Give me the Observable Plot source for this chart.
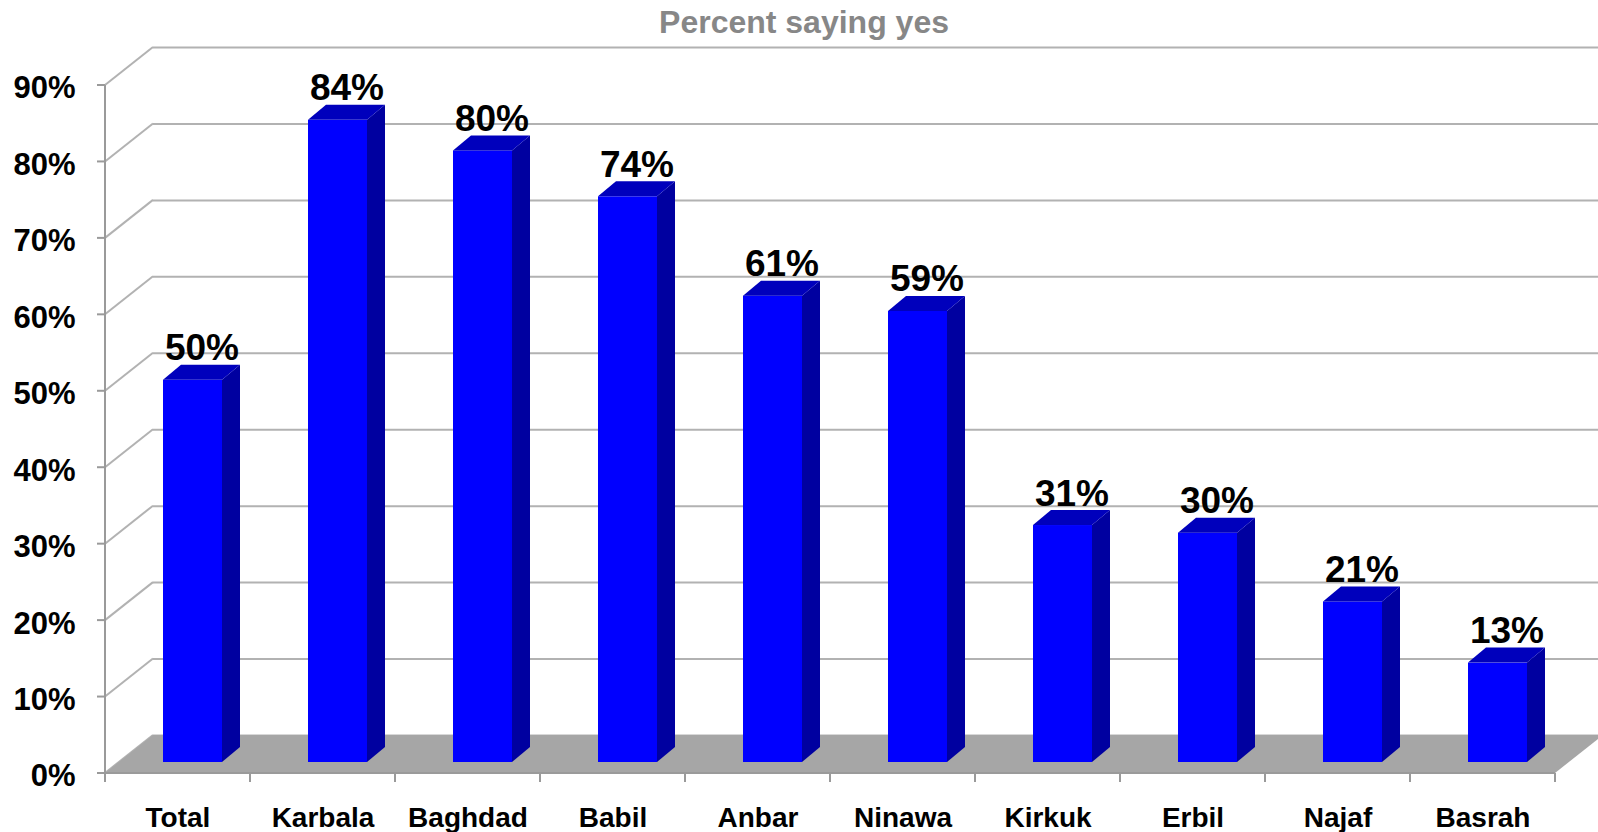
<!DOCTYPE html>
<html>
<head>
<meta charset="utf-8">
<script src="https://cdn.jsdelivr.net/npm/d3@7"></script>
<script src="https://cdn.jsdelivr.net/npm/@observablehq/plot@0.6"></script>
<style>
  html, body { margin: 0; padding: 0; background: #fff; }
  body { width: 1598px; height: 832px; overflow: hidden; font-family: "Liberation Sans", Arial, sans-serif; }
  #title { height: 40px; line-height: 45px; text-align: center; padding-left: 10px; box-sizing: border-box;
           font-size: 32px; font-weight: bold; color: #878787; }
</style>
</head>
<body>
<div id="title">Percent saying yes</div>
<div id="chart"></div>
<script>
// ---- data ----
const categories = ["Total", "Karbala", "Baghdad", "Babil", "Anbar", "Ninawa", "Kirkuk", "Erbil", "Najaf", "Basrah"];
const values = [50, 84, 80, 74, 61, 59, 31, 30, 21, 13];
const yTicks = [0, 10, 20, 30, 40, 50, 60, 70, 80, 90];
const tickLabel = d => d + "%";

const data = categories.map((c, i) => ({category: c, value: values[i]}));

// ---- styling constants (pseudo-3D look) ----
const WALL_DX = 48, WALL_DY = -38;     // depth of the chart box
const BAR_DX = 18, BAR_DY = -15;       // depth of each bar
const BAR_SHIFT_Y = -11;               // bars stand in the middle of the floor
const INSET_L = 58, INSET_R = 28;
const GRID = "#b2b2b2", AXIS = "#9a9a9a", FLOOR = "#a6a6a6";
const FRONT = "#0000ff", SIDE = "#0000a0", TOP = "#0000bc";

// back wall, left wall, floor, axis lines and ticks
const frame3d = (index, scales, vals, dims) => {
  const {y, x} = scales;
  const L = dims.marginLeft, R = dims.width - dims.marginRight;
  const Y0 = y(0), YT = y(yTicks[yTicks.length - 1]);
  const bw = (R - L) / categories.length;
  const g = d3.create("svg:g");
  for (const t of yTicks) {
    g.append("line").attr("x1", L).attr("y1", y(t)).attr("x2", L + WALL_DX).attr("y2", y(t) + WALL_DY)
      .attr("stroke", GRID).attr("stroke-width", 2);
  }
  g.append("polygon")
    .attr("points", [[L, Y0], [R, Y0], [R + WALL_DX, Y0 + WALL_DY], [L + WALL_DX, Y0 + WALL_DY]].map(p => p.join(",")).join(" "))
    .attr("fill", FLOOR);
  g.append("line").attr("x1", L).attr("x2", L).attr("y1", YT).attr("y2", Y0).attr("stroke", AXIS).attr("stroke-width", 2);
  g.append("line").attr("x1", L).attr("x2", R).attr("y1", Y0).attr("y2", Y0).attr("stroke", AXIS).attr("stroke-width", 2);
  for (const t of yTicks) {
    g.append("line").attr("x1", L - 8).attr("x2", L).attr("y1", y(t)).attr("y2", y(t)).attr("stroke", AXIS).attr("stroke-width", 2);
  }
  for (let i = 0; i <= categories.length; i++) {
    const xx = i < categories.length ? x(categories[i]) : x(categories[i - 1]) + bw;
    g.append("line").attr("x1", xx).attr("x2", xx).attr("y1", Y0).attr("y2", Y0 + 9).attr("stroke", AXIS).attr("stroke-width", 2);
  }
  return g.node();
};

// side and top faces of each bar
const barFaces = (index, scales, vals, dims) => {
  const {x, y} = scales;
  const L = dims.marginLeft, R = dims.width - dims.marginRight;
  const bw = (R - L) / categories.length;
  const g = d3.create("svg:g");
  for (const d of data) {
    const x1 = x(d.category) + INSET_L, x2 = x(d.category) + bw - INSET_R;
    const yb = y(0) + BAR_SHIFT_Y, yt = y(d.value) + BAR_SHIFT_Y;
    g.append("polygon")
      .attr("points", [[x2, yb], [x2 + BAR_DX, yb + BAR_DY], [x2 + BAR_DX, yt + BAR_DY], [x2, yt]].map(p => p.join(",")).join(" "))
      .attr("fill", SIDE);
    g.append("polygon")
      .attr("points", [[x1, yt], [x1 + BAR_DX, yt + BAR_DY], [x2 + BAR_DX, yt + BAR_DY], [x2, yt]].map(p => p.join(",")).join(" "))
      .attr("fill", TOP);
  }
  return g.node();
};

const plot = Plot.plot({
  width: 1598,
  height: 792,
  marginLeft: 105,
  marginRight: 43,
  marginTop: 45,
  marginBottom: 59,
  style: {fontFamily: "'Liberation Sans', Arial, sans-serif", background: "#fff", color: "#000"},
  x: {domain: categories, padding: 0},
  y: {domain: [0, 90]},
  marks: [
    Plot.ruleY(yTicks, {dx: WALL_DX, dy: WALL_DY, stroke: GRID, strokeWidth: 2}),
    frame3d,
    Plot.barY(data, {x: "category", y: "value", fill: FRONT, insetLeft: INSET_L, insetRight: INSET_R, dy: BAR_SHIFT_Y}),
    barFaces,
    Plot.text(data, {x: "category", y: "value", text: d => tickLabel(d.value), dx: 24, dy: BAR_SHIFT_Y + BAR_DY - 5,
                     lineAnchor: "bottom", fontSize: 37, fontWeight: "bold", fill: "#000"}),
    Plot.axisY({ticks: yTicks, tickFormat: tickLabel, tickSize: 0, tickPadding: 30, dy: 3,
                fontSize: 31, fontWeight: "bold", fill: "#000", label: null}),
    Plot.axisX({tickSize: 0, tickPadding: 34, fontSize: 28, fontWeight: "bold", fill: "#000", label: null})
  ]
});
document.getElementById("chart").appendChild(plot);
</script>
</body>
</html>
